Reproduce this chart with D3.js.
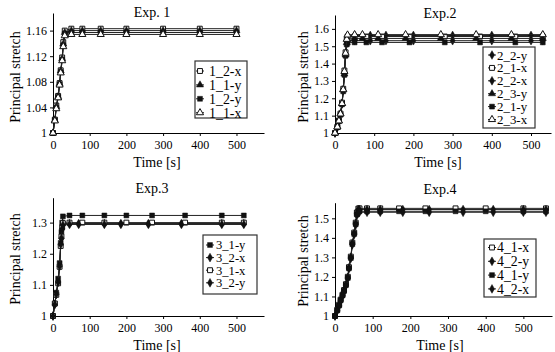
<!DOCTYPE html>
<html>
<head>
<meta charset="utf-8">
<script src="https://cdn.jsdelivr.net/npm/d3@7"></script>
<style>
  body { margin: 0; background: #fff; }
  svg, svg text { font-family: "Liberation Serif", "DejaVu Serif", "Times New Roman", serif; }
  .axis path, .axis line { stroke: #000; }
  .axis text { font-size: 12px; fill: #000; }
</style>
</head>
<body>
<svg width="555" height="352"></svg>
<script>
// ---- Exp. 1 ----
const exp1Names = ["1_2-x", "1_1-y", "1_2-y", "1_1-x"];
const exp1Time = [0, 5, 9, 14, 18, 21, 25, 28, 32, 50, 80, 130, 200, 300, 400, 500];
const exp1_2x = [1, 1.021, 1.043, 1.058, 1.078, 1.098, 1.118, 1.142, 1.160, 1.163, 1.163, 1.163, 1.163, 1.163, 1.163, 1.163];
const exp1_1y = [1, 1.020, 1.041, 1.057, 1.077, 1.097, 1.116, 1.139, 1.157, 1.160, 1.160, 1.160, 1.160, 1.160, 1.160, 1.160];
const exp1_2y = [1, 1.020, 1.039, 1.056, 1.076, 1.095, 1.114, 1.137, 1.155, 1.157, 1.157, 1.157, 1.157, 1.157, 1.157, 1.157];
const exp1_1x = [1, 1.019, 1.038, 1.055, 1.075, 1.094, 1.113, 1.135, 1.152, 1.154, 1.154, 1.154, 1.154, 1.154, 1.154, 1.154];

// ---- Exp. 2 ----
const exp2Names = ["2_2-y", "2_1-x", "2_2-x", "2_3-y", "2_1-y", "2_3-x"];
const exp2TimeA = [0, 6, 10, 14, 18, 21, 24, 27, 30, 32, 50, 70, 110, 180, 270, 360, 450, 530];
const exp2TimeB = [0, 6, 10, 14, 18, 21, 24, 27, 30, 32, 50, 80, 120, 190, 280, 370, 460, 530];
const exp2TimeC = [0, 6, 10, 14, 18, 21, 24, 27, 30, 32, 50, 90, 130, 200, 300, 400, 500, 530];
const exp2_2y = [1, 1.033, 1.068, 1.108, 1.168, 1.245, 1.350, 1.455, 1.535, 1.560, 1.562, 1.562, 1.562, 1.562, 1.562, 1.562, 1.562, 1.562];
const exp2_1x = [1, 1.035, 1.072, 1.112, 1.175, 1.255, 1.360, 1.465, 1.540, 1.555, 1.556, 1.556, 1.556, 1.556, 1.556, 1.556, 1.556, 1.556];
const exp2_2x = [1, 1.035, 1.069, 1.108, 1.168, 1.245, 1.340, 1.450, 1.515, 1.530, 1.532, 1.532, 1.532, 1.532, 1.532, 1.532, 1.532, 1.532];
const exp2_3y = [1, 1.036, 1.070, 1.110, 1.170, 1.250, 1.340, 1.450, 1.520, 1.540, 1.545, 1.545, 1.545, 1.545, 1.545, 1.545, 1.545, 1.545];
const exp2_1y = [1, 1.034, 1.068, 1.105, 1.165, 1.240, 1.335, 1.445, 1.510, 1.520, 1.522, 1.522, 1.522, 1.522, 1.522, 1.522, 1.522, 1.522];
const exp2_3x = [1, 1.035, 1.070, 1.110, 1.170, 1.250, 1.355, 1.460, 1.540, 1.565, 1.567, 1.567, 1.567, 1.567, 1.567, 1.567, 1.567, 1.567];

// ---- Exp. 3 ----
const exp3Names = ["3_1-y", "3_2-x", "3_1-x", "3_2-y"];
const exp3TimeA = [0, 5, 9, 14, 18, 21, 23, 25, 27, 45, 80, 140, 200, 270, 360, 460, 520];
const exp3TimeB = [0, 5, 9, 14, 18, 21, 23, 25, 27, 45, 70, 140, 185, 260, 350, 460, 520];
const exp3_1y = [1, 1.040, 1.075, 1.120, 1.170, 1.235, 1.270, 1.300, 1.320, 1.323, 1.323, 1.323, 1.323, 1.323, 1.323, 1.323, 1.323];
const exp3_2x = [1, 1.038, 1.070, 1.110, 1.160, 1.228, 1.250, 1.280, 1.296, 1.297, 1.297, 1.297, 1.297, 1.297, 1.297, 1.297, 1.297];
const exp3_1x = [1, 1.040, 1.068, 1.105, 1.158, 1.225, 1.255, 1.285, 1.298, 1.300, 1.300, 1.300, 1.300, 1.300, 1.300, 1.300, 1.300];
const exp3_2y = [1, 1.037, 1.070, 1.108, 1.160, 1.230, 1.250, 1.280, 1.292, 1.294, 1.294, 1.294, 1.294, 1.294, 1.294, 1.294, 1.294];

// ---- Exp. 4 ----
const exp4Names = ["4_1-x", "4_2-y", "4_1-y", "4_2-x"];
const exp4TimeA = [0, 6, 11, 15, 20, 24, 29, 34, 37, 42, 46, 51, 55, 58, 62, 65, 85, 120, 170, 240, 320, 400, 500, 560];
const exp4TimeB = [0, 6, 11, 15, 20, 24, 29, 34, 37, 42, 46, 51, 55, 58, 62, 65, 85, 120, 180, 250, 340, 420, 500, 560];
const exp4_1x = [1, 1.032, 1.058, 1.084, 1.109, 1.133, 1.163, 1.201, 1.250, 1.304, 1.376, 1.427, 1.478, 1.530, 1.550, 1.551, 1.551, 1.551, 1.551, 1.551, 1.551, 1.551, 1.551, 1.551];
const exp4_2y = [1, 1.030, 1.056, 1.082, 1.107, 1.130, 1.160, 1.198, 1.247, 1.300, 1.372, 1.423, 1.474, 1.525, 1.545, 1.545, 1.545, 1.545, 1.545, 1.545, 1.545, 1.545, 1.545, 1.545];
const exp4_1y = [1, 1.029, 1.054, 1.080, 1.105, 1.128, 1.158, 1.195, 1.244, 1.297, 1.368, 1.420, 1.470, 1.520, 1.536, 1.536, 1.536, 1.536, 1.536, 1.536, 1.536, 1.536, 1.536, 1.536];
const exp4_2x = [1, 1.028, 1.053, 1.079, 1.104, 1.126, 1.156, 1.193, 1.242, 1.295, 1.365, 1.417, 1.466, 1.515, 1.531, 1.531, 1.531, 1.531, 1.531, 1.531, 1.531, 1.531, 1.531, 1.531];

const svg = d3.select("svg");
const FONT = "'Liberation Serif', 'DejaVu Serif', serif";

// panel layout (pixels) and series wiring
const panels = [
  {
    title: "Exp. 1", titleX: 152, titleY: 17,
    px: [53, 264], py: [133, 13], xMax: 575, yMax: 1.1875,
    yTicks: [1, 1.04, 1.08, 1.12, 1.16], dec: 2,
    series: [
      { name: exp1Names[0], t: exp1Time, v: exp1_2x, sym: "osq" },
      { name: exp1Names[1], t: exp1Time, v: exp1_1y, sym: "tri" },
      { name: exp1Names[2], t: exp1Time, v: exp1_2y, sym: "sq" },
      { name: exp1Names[3], t: exp1Time, v: exp1_1x, sym: "otri" }
    ],
    legend: { x: 195, y: 61, w: 52, h: 57, row0: 71, step: 13.9, mx: 5, tx: 14 },
    xLabelX: 157, xLabelY: 167, yLabelX: 15, yLabelY: 77
  },
  {
    title: "Exp.2", titleX: 440, titleY: 18,
    px: [335, 551], py: [133, 15], xMax: 551, yMax: 1.68,
    yTicks: [1, 1.1, 1.2, 1.3, 1.4, 1.5, 1.6], dec: 1,
    series: [
      { name: exp2Names[0], t: exp2TimeC, v: exp2_2y, sym: "dia" },
      { name: exp2Names[1], t: exp2TimeB, v: exp2_1x, sym: "osq" },
      { name: exp2Names[2], t: exp2TimeC, v: exp2_2x, sym: "dia" },
      { name: exp2Names[3], t: exp2TimeA, v: exp2_3y, sym: "tri" },
      { name: exp2Names[4], t: exp2TimeB, v: exp2_1y, sym: "sq" },
      { name: exp2Names[5], t: exp2TimeA, v: exp2_3x, sym: "otri" }
    ],
    legend: { x: 483, y: 47, w: 52, h: 81, row0: 55, step: 12.9, mx: 9, tx: 14 },
    xLabelX: 438, xLabelY: 167, yLabelX: 303, yLabelY: 77
  },
  {
    title: "Exp.3", titleX: 152, titleY: 193,
    px: [53, 264], py: [316, 197.7], xMax: 575, yMax: 1.38,
    yTicks: [1, 1.1, 1.2, 1.3], dec: 1,
    series: [
      { name: exp3Names[0], t: exp3TimeA, v: exp3_1y, sym: "sq" },
      { name: exp3Names[1], t: exp3TimeB, v: exp3_2x, sym: "dia" },
      { name: exp3Names[2], t: exp3TimeA, v: exp3_1x, sym: "osq" },
      { name: exp3Names[3], t: exp3TimeB, v: exp3_2y, sym: "dia" }
    ],
    legend: { x: 203, y: 235, w: 54, h: 59, row0: 245, step: 12.6, mx: 7, tx: 13 },
    xLabelX: 157, xLabelY: 350, yLabelX: 15, yLabelY: 259
  },
  {
    title: "Exp.4", titleX: 440, titleY: 194,
    px: [335, 552], py: [316, 202.7], xMax: 576, yMax: 1.58,
    yTicks: [1, 1.1, 1.2, 1.3, 1.4, 1.5], dec: 1,
    series: [
      { name: exp4Names[0], t: exp4TimeA, v: exp4_1x, sym: "osq" },
      { name: exp4Names[1], t: exp4TimeB, v: exp4_2y, sym: "dia" },
      { name: exp4Names[2], t: exp4TimeA, v: exp4_1y, sym: "sq" },
      { name: exp4Names[3], t: exp4TimeB, v: exp4_2x, sym: "dia" }
    ],
    legend: { x: 484, y: 239, w: 52, h: 58, row0: 247.5, step: 13.8, mx: 8, tx: 13 },
    xLabelX: 440, xLabelY: 350, yLabelX: 303, yLabelY: 261
  }
];

const shapes = { osq: d3.symbolSquare, sq: d3.symbolSquare, tri: d3.symbolTriangle, otri: d3.symbolTriangle, dia: d3.symbolDiamond };
const sizes = { osq: 24, sq: 24, tri: 22, otri: 22, dia: 22 };

function styleMarker(sel, type) {
  const open = type === "osq" || type === "otri";
  sel.attr("d", d3.symbol(shapes[type], sizes[type]))
    .attr("fill", open ? "#fff" : "#111")
    .attr("stroke", "#111")
    .attr("stroke-width", open ? 1 : 0.5);
}

panels.forEach(p => {
  const x = d3.scaleLinear().domain([0, p.xMax]).range(p.px);
  const y = d3.scaleLinear().domain([1, p.yMax]).range(p.py);
  const g = svg.append("g");

  // axes
  g.append("g")
    .attr("class", "axis")
    .attr("transform", `translate(0,${p.py[0]})`)
    .call(d3.axisBottom(x).tickValues([0, 100, 200, 300, 400, 500]).tickSize(3).tickSizeOuter(0).tickPadding(4).tickFormat(d3.format("d")));

  g.append("g")
    .attr("class", "axis")
    .attr("transform", `translate(${p.px[0]},0)`)
    .call(d3.axisLeft(y).tickValues(p.yTicks).tickSize(3).tickSizeOuter(0).tickPadding(3)
      .tickFormat(d => d === 1 ? "1" : d.toFixed(p.dec)));

  g.selectAll(".axis text").attr("font-family", FONT).attr("font-size", 12);

  // lines and markers
  const line = d3.line().x(d => x(d[0])).y(d => y(d[1]));
  p.series.forEach(s => {
    const pts = s.t.map((t, i) => [t, s.v[i]]);
    g.append("path")
      .datum(pts)
      .attr("d", line)
      .attr("fill", "none")
      .attr("stroke", "#222")
      .attr("stroke-width", 1);
    g.selectAll(null)
      .data(pts)
      .enter()
      .append("path")
      .attr("transform", d => `translate(${x(d[0])},${y(d[1])})`)
      .call(styleMarker, s.sym);
  });

  // title and labels
  g.append("text")
    .attr("x", p.titleX)
    .attr("y", p.titleY)
    .attr("text-anchor", "middle")
    .attr("font-family", FONT)
    .attr("font-size", 14)
    .text(p.title);

  g.append("text")
    .attr("x", p.xLabelX)
    .attr("y", p.xLabelY)
    .attr("text-anchor", "middle")
    .attr("font-family", FONT)
    .attr("font-size", 14)
    .text("Time [s]");

  g.append("text")
    .attr("transform", `translate(${p.yLabelX},${p.yLabelY}) rotate(-90)`)
    .attr("text-anchor", "middle")
    .attr("dy", "0.35em")
    .attr("font-family", FONT)
    .attr("font-size", 14)
    .text("Principal stretch");

  // legend
  const L = p.legend;
  const lg = g.append("g");
  lg.append("rect")
    .attr("x", L.x).attr("y", L.y)
    .attr("width", L.w).attr("height", L.h)
    .attr("fill", "#fff")
    .attr("stroke", "#333")
    .attr("stroke-width", 1.2);
  p.series.forEach((s, i) => {
    const cy = L.row0 + i * L.step;
    lg.append("line")
      .attr("x1", L.x + L.mx - 4).attr("x2", L.x + L.mx + 4)
      .attr("y1", cy).attr("y2", cy)
      .attr("stroke", "#222");
    lg.append("path")
      .attr("transform", `translate(${L.x + L.mx},${cy})`)
      .call(styleMarker, s.sym);
    lg.append("text")
      .attr("x", L.x + L.tx)
      .attr("y", cy)
      .attr("dy", "0.35em")
      .attr("font-family", FONT)
      .attr("font-size", Math.min(14, L.step))
      .text(s.name);
  });
});
</script>
</body>
</html>
